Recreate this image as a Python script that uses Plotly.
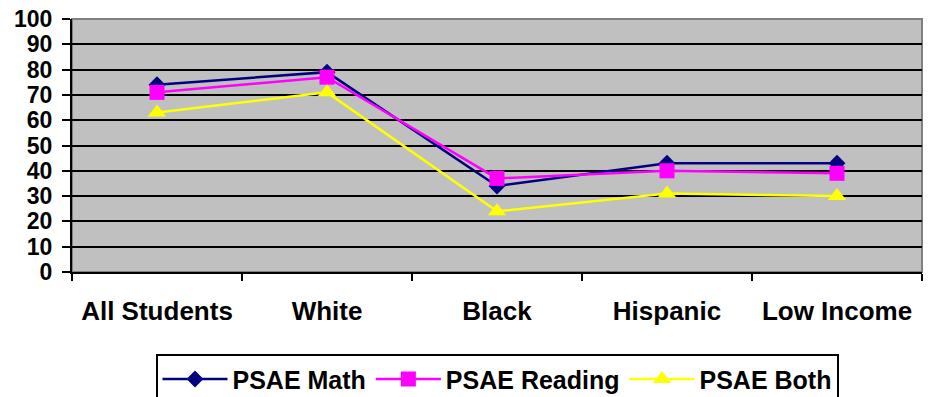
import plotly.graph_objects as go

# PSAE results by student group (percent meeting/exceeding)
groups = ["All Students", "White", "Black", "Hispanic", "Low Income"]
psae_math = [74, 79, 34, 43, 43]
psae_reading = [71, 77, 37, 40, 39]
psae_both = [63, 71, 24, 31, 30]
y_ticks = list(range(0, 101, 10))

FONT = "Liberation Sans, Arial, sans-serif"

fig = go.Figure()
series = [
    ("PSAE Math", psae_math, "#000080", "diamond", 13),
    ("PSAE Reading", psae_reading, "#FF00FF", "square", 15),
    ("PSAE Both", psae_both, "#FFFF00", "triangle-up", 16),
]
for name, vals, color, symbol, size in series:
    fig.add_trace(go.Scatter(
        x=groups, y=vals, name=name, mode="lines+markers",
        line=dict(color=color, width=2.5),
        marker=dict(symbol=symbol, size=size, color=color,
                    line=dict(width=0)),
    ))

fig.update_layout(
    width=930, height=397,
    margin=dict(l=72, r=8, t=19, b=125, autoexpand=False),
    paper_bgcolor="white",
    plot_bgcolor="#C0C0C0",
    font=dict(family=FONT, size=24, color="black"),
    showlegend=True,
    legend=dict(
        orientation="h", x=0.5, xanchor="center", y=-0.325, yanchor="top",
        bgcolor="white", bordercolor="black", borderwidth=2,
        font=dict(family=FONT, size=25, color="black", weight="bold"),
        itemwidth=65, tracegroupgap=0,
    ),
    shapes=[dict(type="rect", xref="paper", yref="paper", x0=0, x1=1, y0=0, y1=1,
                 line=dict(color="#808080", width=2), layer="below")],
)

fig.update_xaxes(
    type="category", range=[-0.5, 4.5], automargin=False,
    showline=True, linecolor="black", linewidth=2,
    ticks="outside", tickson="boundaries", ticklen=7, tickwidth=2, tickcolor="black",
    showgrid=False, zeroline=False,
    tickfont=dict(family=FONT, size=26, color="black", weight="bold"),
    ticklabelstandoff=15,
)
fig.update_yaxes(
    range=[0, 100], tickvals=y_ticks, automargin=False,
    showline=True, linecolor="black", linewidth=2,
    ticks="outside", ticklen=8, tickwidth=2, tickcolor="black",
    showgrid=True, gridcolor="black", gridwidth=2,
    zeroline=False,
    tickfont=dict(family=FONT, size=23, color="black", weight="bold"),
    ticklabelstandoff=5,
)

fig.write_html("out.html")
